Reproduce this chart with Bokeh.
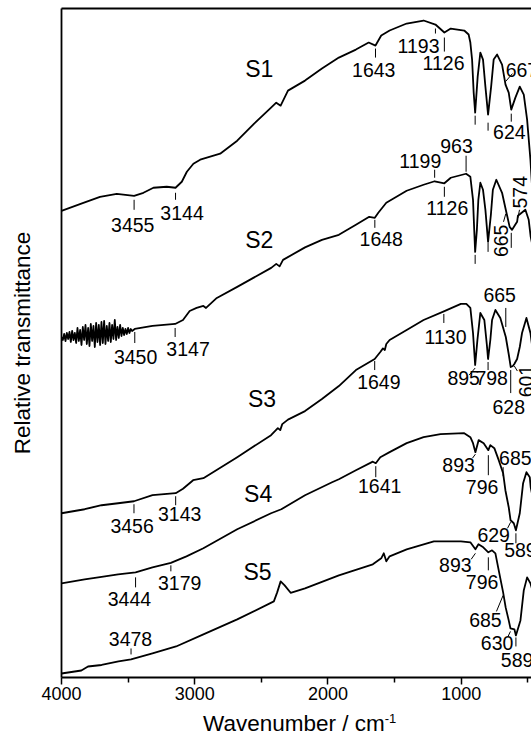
from math import pi

from bokeh.core.properties import value
from bokeh.embed import file_html
from bokeh.layouts import column
from bokeh.models import Div, FixedTicker, LinearAxis, Range1d
from bokeh.plotting import figure
from bokeh.resources import INLINE

FONT = "Liberation Sans"

# ---- FTIR spectra: wavenumber (cm-1) and stacked relative transmittance (arb. units) ----
s1_wn = [4000, 3836, 3711, 3585, 3455, 3385, 3310, 3210, 3144, 3097, 3059, 3010, 2959, 2809,
         2681, 2554, 2427, 2388, 2355, 2300, 2172, 2045, 1918, 1790, 1694, 1643, 1600, 1537,
         1409, 1282, 1193, 1126, 1078, 977, 944, 931, 918, 906, 895, 876, 856, 836, 818, 798,
         775, 756, 730, 693, 667, 643, 624, 593, 560, 530, 505, 480, 440]
s1_t = [466, 474, 480, 483, 481, 484, 489, 490, 489, 495, 505, 513, 517, 523,
        536, 553, 569, 574, 571, 586, 596, 608, 619, 627, 634, 631, 641, 646,
        653, 656, 652, 644, 648, 646, 642, 634, 617, 584, 564, 600, 624, 617, 590, 562,
        590, 617, 622, 612, 592, 584, 567, 579, 590, 582, 557, 517, 430]

s2_wn = [4000, 3990, 3980, 3970, 3960, 3950, 3940, 3930, 3920, 3910, 3900, 3890, 3880, 3870,
         3860, 3850, 3840, 3830, 3820, 3810, 3800, 3790, 3780, 3770, 3760, 3750, 3740, 3730,
         3720, 3710, 3700, 3690, 3680, 3670, 3660, 3650, 3640, 3630, 3620, 3610, 3600, 3590,
         3580, 3570, 3560, 3550, 3540, 3530, 3520, 3510, 3500, 3490, 3480, 3470, 3460,
         3450, 3317, 3147, 3088, 3038, 2986, 2935, 2915, 2834, 2681, 2426, 2388, 2363, 2337,
         2172, 2045, 1918, 1790, 1690, 1648, 1622, 1562, 1409, 1282, 1199, 1126, 1078, 963,
         931, 911, 902, 895, 882, 871, 856, 836, 818, 798, 777, 762, 736, 693, 665, 636, 618,
         580, 574, 555, 518, 493, 478, 443]
s2_t = [340, 337, 343, 336, 344, 338, 345, 335, 346, 337, 344, 334, 349, 336,
        347, 332, 350, 337, 352, 333, 349, 331, 353, 336, 351, 330, 354, 335,
        352, 332, 355, 334, 356, 333, 351, 336, 354, 335, 352, 338, 357, 337,
        350, 339, 352, 341, 349, 342, 348, 343, 349, 344, 348, 346, 347,
        348, 351, 353, 357, 366, 369, 371, 369, 379, 390, 409, 413, 410.5, 417,
        429.5, 437, 442, 452, 460, 459, 464, 474, 486, 492, 495.5, 493.5, 499, 503,
        500, 477, 447, 425, 447, 477, 494, 487, 467, 435, 462, 487, 497, 484, 467, 450, 447,
        455, 461, 463, 467, 457, 440, 417]

s3_wn = [4000, 3826, 3699, 3575, 3456, 3317, 3143, 3088, 3012, 2935, 2681, 2427, 2376, 2358,
         2343, 2300, 2172, 2045, 1918, 1790, 1649, 1607, 1587, 1573, 1562, 1537, 1409, 1282,
         1130, 1002, 961, 931, 911, 895, 878, 856, 826, 807, 798, 781, 768, 743, 706, 665,
         642, 628, 612, 601, 580, 560, 543, 510, 480, 443]
s3_t = [164, 168, 172, 174, 176, 182, 184, 188.5, 197, 199, 220, 242, 249, 247,
        253, 257.5, 266, 278, 291, 307, 318, 325, 328.6, 327, 333, 337, 347, 357,
        365.5, 373, 373, 369, 344, 312, 337, 364, 357, 332, 318, 337, 357, 367, 359, 340,
        322, 310, 311, 313, 318, 330, 344, 359, 344, 307]

s4_wn = [4000, 3826, 3699, 3575, 3444, 3317, 3179, 3062, 2935, 2681, 2427, 2350, 2172, 1969,
         1918, 1790, 1663, 1641, 1607, 1537, 1409, 1282, 1155, 977, 931, 911, 893, 869, 831,
         796, 781, 751, 718, 685, 668, 643, 629, 605, 589, 560, 535, 510, 485, 478, 443]
s4_t = [94, 98, 100.5, 103, 105, 110, 114.5, 121, 129, 148, 164, 168, 182, 195,
        198, 207, 215.5, 214, 220, 225, 234, 240, 243, 244, 240, 234, 225, 237, 234,
        227, 232, 229, 217, 204, 187, 170, 157, 154, 147, 164, 194, 205, 200, 190, 167]

s5_wn = [4000, 3851, 3801, 3699, 3572, 3478, 3317, 3140, 2935, 2681, 2406, 2381, 2355, 2325,
         2280, 2172, 1918, 1663, 1600, 1581, 1562, 1537, 1409, 1205, 1002, 931, 893, 870, 834,
         796, 768, 743, 718, 685, 666, 643, 630, 600, 589, 555, 530, 505, 480, 443]
s5_t = [4, 7, 11, 12.5, 16, 18, 24, 31, 43, 58, 76, 85, 96, 92,
        84.6, 89, 102, 113, 119, 124, 116, 121, 128, 136, 136, 135, 128, 133, 130,
        125, 127, 124, 107, 85, 70, 57, 49, 48, 42, 57, 87, 100, 94, 77]

spectra = [(s1_wn, s1_t), (s2_wn, s2_t), (s3_wn, s3_t), (s4_wn, s4_t), (s5_wn, s5_t)]

# ---- sample names ----
sample_names = ["S1", "S2", "S3", "S4", "S5"]
name_pos = [(2516, 607.6), (2516, 436.6), (2495, 278), (2524, 183.5), (2528, 105)]

# ---- peak assignments: label text, label x, label y, rotation (deg), marker ----
# marker ("tick", y0, y1) draws a vertical bar at the peak wavenumber;
# marker ("lead", y0, x1, y1) draws a leader from the peak wavenumber to (x1, y1).
peaks = [
    # S1
    ("3455", 3465, 452, 0, ("tick", 467, 477)),
    ("3144", 3095, 464, 0, ("tick", 477, 484)),
    ("1643", 1656, 607, 0, ("tick", 619, 628)),
    ("1193", 1320, 631, 0, ("tick", 643, 648)),
    ("1126", 1132, 614, 0, ("tick", 625, 639)),
    ("624", 638, 545, 0, ("tick", 555, 563)),
    ("667", 544, 607, 0, ("lead", 595, 615, 603)),
    # S2
    ("3450", 3444, 320, 0, ("tick", 334, 345)),
    ("3147", 3050, 328, 0, ("tick", 340, 349)),
    ("1648", 1600, 438, 0, ("tick", 449, 457)),
    ("1199", 1307, 516, 0, ("tick", 499, 507)),
    ("963", 1035, 531, 0, ("tick", 505, 521)),
    ("1126", 1104, 469, 0, ("tick", 480, 490)),
    ("665", 703, 436, 90, ("lead", 463, 682, 455)),
    ("574", 556, 484.5, 90, ("lead", 459, 562, 467)),
    # S3
    ("3456", 3470, 151, 0, ("tick", 164, 173)),
    ("3143", 3113, 163, 0, ("tick", 172, 181)),
    ("1649", 1618, 295, 0, ("tick", 307, 316)),
    ("1130", 1117, 339.5, 0, ("tick", 354, 363)),
    ("895", 981, 299, 0, ("lead", 309, 940, 302)),
    ("798", 771, 299, 0, ("tick", 307, 315)),
    ("628", 643, 270, 0, ("tick", 284, 307)),
    ("601", 510, 296, 90, ("lead", 311, 578, 306)),
    ("665", 711, 382, 0, ("tick", 350, 369)),
    # S4
    ("3444", 3490, 78.5, 0, ("tick", 90, 100)),
    ("3179", 3113, 94, 0, ("tick", 106, 112)),
    ("1641", 1612, 191, 0, ("tick", 200, 211)),
    ("893", 1019, 212, 0, ("lead", 223, 915, 219)),
    ("796", 843, 190, 0, ("tick", 202, 222)),
    ("685", 593, 219, 0, ("tick", 201, 210)),
    ("629", 756, 142, 0, ("lead", 155, 652, 149)),
    ("589", 555, 127, 0, ("tick", 134, 144)),
    # S5
    ("3478", 3482, 38, 0, ("tick", 23, 29)),
    ("893", 1044, 112, 0, ("lead", 124, 925, 118)),
    ("796", 843, 95, 0, ("tick", 107, 120)),
    ("685", 818, 57, 0, ("lead", 82, 735, 66)),
    ("630", 730, 34, 0, ("lead", 46, 648, 41)),
    ("589", 580, 17, 0, ("tick", 31, 40)),
]
# unlabelled markers under the two strong Si-O bands of S1 and S2: wavenumber, y0, y1
plain_ticks = [(895, 552, 561), (798, 546, 554), (895, 413, 422), (798, 425, 434),
               (624, 429, 444)]

x_major = [4000, 3000, 2000, 1000]
x_minor = [3500, 2500, 1500, 500]

p = figure(width=531, height=712, x_range=Range1d(4000, 472), y_range=Range1d(0, 668),
           output_backend="svg", toolbar_location=None,
           min_border_left=61, min_border_right=0, min_border_top=8, min_border_bottom=35)
p.grid.visible = False
p.outline_line_color = None
p.background_fill_color = "white"
p.border_fill_color = "white"

for wn, t in spectra:
    p.line(wn, t, line_color="black", line_width=1.8, line_join="round")

# peak labels and their markers
tx, ty, tt, ta = [], [], [], []
sx0, sy0, sx1, sy1 = [], [], [], []
for text, lx, ly, rot, mark in peaks:
    tx.append(lx)
    ty.append(ly)
    tt.append(text)
    ta.append(rot * pi / 180)
    w = float(text)
    if mark[0] == "tick":
        sx0.append(w); sy0.append(mark[1]); sx1.append(w); sy1.append(mark[2])
    else:
        sx0.append(w); sy0.append(mark[1]); sx1.append(mark[2]); sy1.append(mark[3])
for w, a, b in plain_ticks:
    sx0.append(w); sy0.append(a); sx1.append(w); sy1.append(b)

p.segment(sx0, sy0, sx1, sy1, line_color="black", line_width=1)
p.text(tx, ty, text=tt, angle=ta, text_align="center", text_baseline="middle",
       text_font=value(FONT), text_font_size="19.5px", text_color="black")

p.text([c[0] for c in name_pos], [c[1] for c in name_pos], text=sample_names,
       text_align="center", text_baseline="middle", text_font=value(FONT),
       text_font_size="23px", text_color="black")

# bottom axis (its title sits in the block below the plot)
xa = p.xaxis[0]
xa.ticker = FixedTicker(ticks=x_major, minor_ticks=x_minor)
xa.axis_line_width = 2
xa.major_tick_line_width = 1.5
xa.minor_tick_line_width = 1.5
xa.major_tick_in = 0
xa.major_tick_out = 7
xa.minor_tick_in = 0
xa.minor_tick_out = 5
xa.major_label_standoff = 2
xa.major_label_text_font = FONT
xa.major_label_text_font_size = "18px"
xa.major_label_text_color = "black"

# left axis: frame line and title only
ya = p.yaxis[0]
ya.ticker = FixedTicker(ticks=[])
ya.major_label_text_font_size = "0px"
ya.major_tick_out = 0
ya.minor_tick_out = 0
ya.axis_line_width = 1.8
ya.axis_label = "Relative transmittance"
ya.axis_label_text_font = FONT
ya.axis_label_text_font_size = "22.5px"
ya.axis_label_text_font_style = "normal"
ya.axis_label_text_color = "black"
ya.axis_label_standoff = 27

# top frame line
top = LinearAxis(ticker=FixedTicker(ticks=[]), major_label_text_font_size="0px",
                 major_tick_out=0, minor_tick_out=0, axis_line_width=1.8,
                 major_label_standoff=0)
p.add_layout(top, "above")

# x-axis title with the unit's superscript
xtitle = Div(
    text='Wavenumber / cm<span style="font-size:13px; line-height:0; '
         'vertical-align:8px;">-1</span>',
    width=531, height=23, margin=0,
    styles={"font-family": FONT, "font-size": "22.5px", "line-height": "22px",
            "padding-top": "1px", "text-indent": "203px", "color": "black",
            "white-space": "nowrap"},
)

layout = column(p, xtitle, spacing=0)
open("out.html", "w").write(file_html(layout, INLINE))
